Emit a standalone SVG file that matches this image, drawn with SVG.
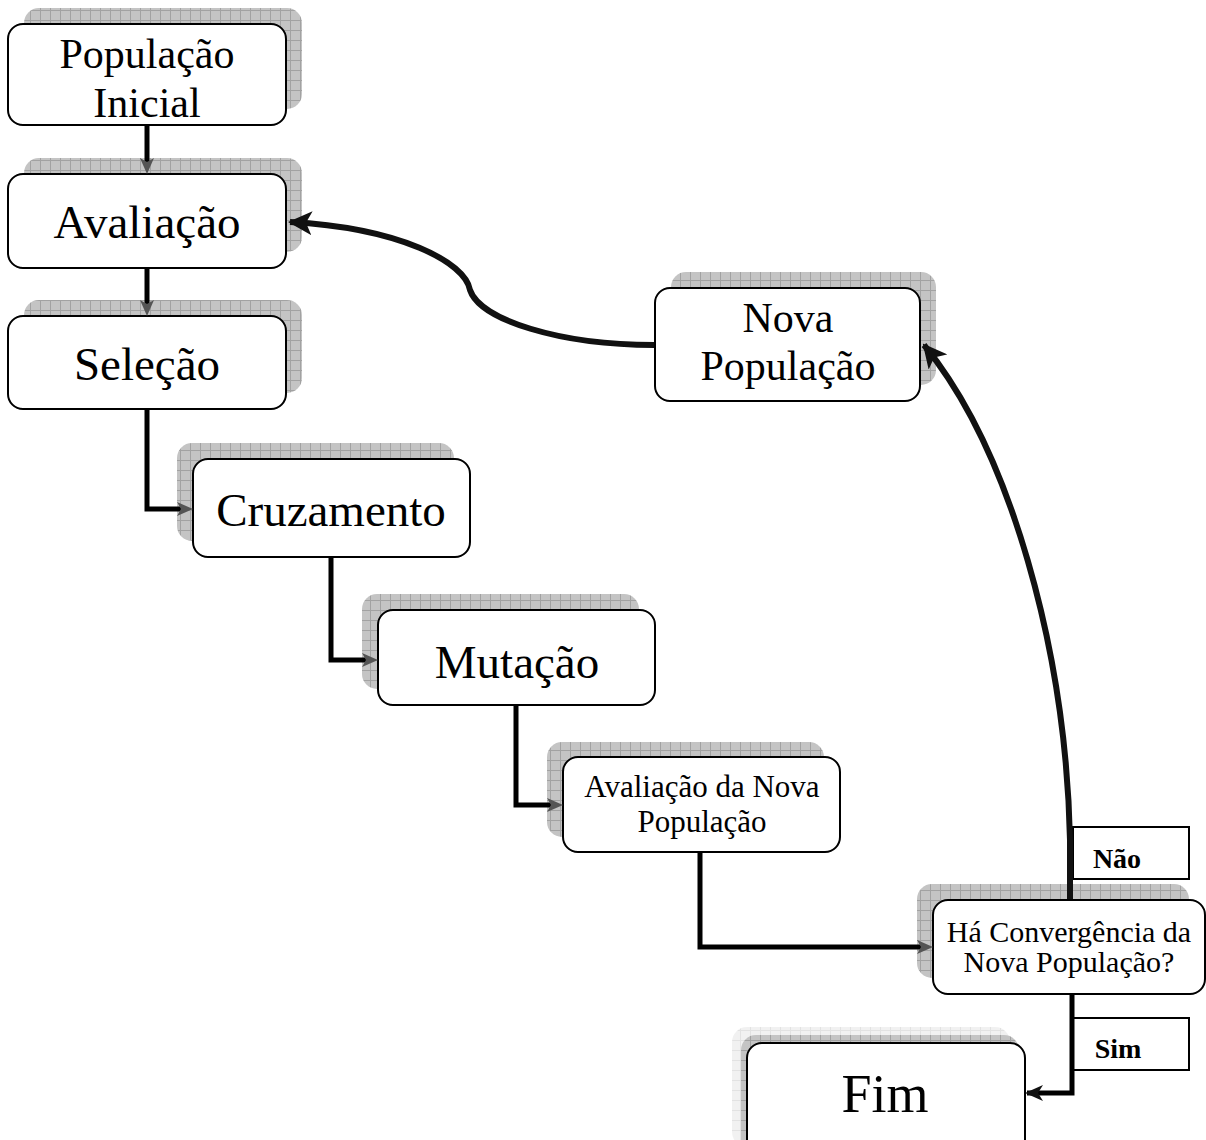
<svg xmlns="http://www.w3.org/2000/svg" width="1206" height="1140" viewBox="0 0 1206 1140">
<defs>
<pattern id="grid" width="10" height="10" patternUnits="userSpaceOnUse">
<rect width="10" height="10" fill="#c4c4c4"/>
<path d="M0,0.5 H10 M0.5,0 V10" stroke="#a2a2a2" stroke-width="1"/>
</pattern>
<pattern id="gridLight" width="10" height="10" patternUnits="userSpaceOnUse">
<rect width="10" height="10" fill="#f1f1f1"/>
<path d="M0,0.5 H10 M0.5,0 V10" stroke="#e2e2e2" stroke-width="1"/>
</pattern>
<marker id="grayHead" markerUnits="userSpaceOnUse" viewBox="0 0 16 14" markerWidth="16" markerHeight="14" refX="6" refY="7" orient="auto">
<path d="M0,0 L16,7 L0,14 L4,7 Z" fill="#555"/>
</marker>
<marker id="blackHead" markerUnits="userSpaceOnUse" viewBox="0 0 24 24" markerWidth="24" markerHeight="24" refX="22" refY="12" orient="auto">
<path d="M0,0 L24,12 L0,24 L6,12 Z" fill="#111"/>
</marker>
<marker id="simHead" markerUnits="userSpaceOnUse" viewBox="0 0 18 16" markerWidth="18" markerHeight="16" refX="16" refY="8" orient="auto">
<path d="M0,0 L18,8 L0,16 L5,8 Z" fill="#111"/>
</marker>
</defs>
<style>
.shadow{fill:url(#grid);}
.shadowLight{fill:url(#gridLight);}
.box{fill:#fff;stroke:#000;stroke-width:2;}
.lbl{fill:#fff;stroke:#000;stroke-width:2;}
.t{font-family:'Liberation Serif',Tinos,'Times New Roman',Times,serif;fill:#000;text-anchor:middle;}
.big{font-size:47px;}
.mid{font-size:42px;}
.sm{font-size:30px;}
.b{font-size:28px;font-weight:bold;}
.conn{fill:none;stroke:#000;stroke-width:5;}
.curve{fill:none;stroke:#111;stroke-width:6;}
</style>

<g id="pop-inicial">
<rect class="shadow" x="24" y="8" width="278" height="101" rx="15"/>
<rect class="box" x="8" y="24" width="278" height="101" rx="15"/>
<text class="t mid" x="147" y="68" font-family="Liberation Serif, serif">População</text>
<text class="t mid" x="147" y="117" font-family="Liberation Serif, serif">Inicial</text>
</g>

<g id="avaliacao">
<rect class="shadow" x="24" y="158" width="278" height="94" rx="15"/>
<rect class="box" x="8" y="174" width="278" height="94" rx="15"/>
<text class="t big" x="147" y="238">Avaliação</text>
</g>

<g id="selecao">
<rect class="shadow" x="24" y="300" width="278" height="93" rx="15"/>
<rect class="box" x="8" y="316" width="278" height="93" rx="15"/>
<text class="t big" x="147" y="380">Seleção</text>
</g>

<g id="cruzamento">
<rect class="shadow" x="177" y="443" width="277" height="98" rx="15"/>
<rect class="box" x="193" y="459" width="277" height="98" rx="15"/>
<text class="t big" x="331" y="526">Cruzamento</text>
</g>

<g id="mutacao">
<rect class="shadow" x="362" y="594" width="277" height="95" rx="15"/>
<rect class="box" x="378" y="610" width="277" height="95" rx="15"/>
<text class="t big" x="517" y="678">Mutação</text>
</g>

<g id="avaliacao-nova">
<rect class="shadow" x="547" y="742" width="277" height="95" rx="15"/>
<rect class="box" x="563" y="757" width="277" height="95" rx="15"/>
<text class="t sm" x="702" y="797" style="font-size:31px">Avaliação da Nova</text>
<text class="t sm" x="702" y="832" style="font-size:31px">População</text>
</g>

<g id="convergencia">
<rect class="shadow" x="917" y="884" width="272" height="94" rx="15"/>
<rect class="box" x="933" y="900" width="272" height="94" rx="15"/>
<text class="t sm" x="1069" y="942">Há Convergência da</text>
<text class="t sm" x="1069" y="972">Nova População?</text>
</g>

<g id="nova-populacao">
<rect class="shadow" x="671" y="272" width="265" height="113" rx="15"/>
<rect class="box" x="655" y="288" width="265" height="113" rx="15"/>
<text class="t mid" x="788" y="332">Nova</text>
<text class="t mid" x="788" y="380">População</text>
</g>

<g id="fim">
<rect class="shadowLight" x="732" y="1027" width="278" height="120" rx="15"/>
<rect class="shadow" x="741" y="1035" width="278" height="120" rx="15"/>
<rect class="box" x="747" y="1043" width="278" height="120" rx="15"/>
<text class="t" x="885" y="1112" style="font-size:54px">Fim</text>
</g>

<g id="label-nao">
<rect class="lbl" x="1073" y="827" width="116" height="52"/>
<text class="t b" x="1117" y="868">Não</text>
</g>

<g id="label-sim">
<rect class="lbl" x="1073" y="1018" width="116" height="52"/>
<text class="t b" x="1118" y="1058">Sim</text>
</g>

<g id="connectors">
<path class="conn" d="M147,126 V164" marker-end="url(#grayHead)"/>
<path class="conn" d="M147,269 V306" marker-end="url(#grayHead)"/>
<path class="conn" d="M147,410 V509 H183" marker-end="url(#grayHead)"/>
<path class="conn" d="M331,558 V660 H368" marker-end="url(#grayHead)"/>
<path class="conn" d="M516,706 V805 H553" marker-end="url(#grayHead)"/>
<path class="conn" d="M700,853 V947 H923" marker-end="url(#grayHead)"/>
<path class="curve" d="M654,345 C560,345 480,320 470,290 C465,262 400,228 290,222" marker-end="url(#blackHead)"/>
<path class="curve" d="M1070,899 V840 C1066,650 1010,450 924,345" marker-end="url(#blackHead)"/>
<path class="conn" d="M1072,995 V1093 H1027" marker-end="url(#simHead)"/>
</g>
</svg>
